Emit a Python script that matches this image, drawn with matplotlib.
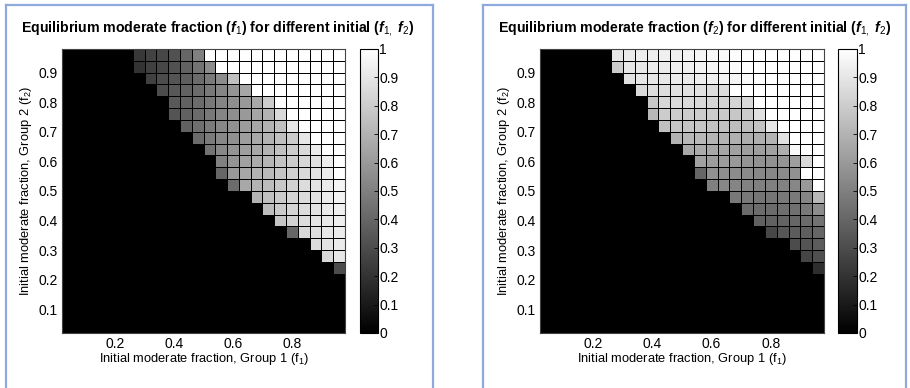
import numpy as np
import matplotlib
matplotlib.use("Agg")
import matplotlib.pyplot as plt
from matplotlib.lines import Line2D

plt.rcParams['font.family'] = ['Liberation Sans', 'DejaVu Sans']
plt.rcParams['mathtext.fontset'] = 'custom'
plt.rcParams['mathtext.rm'] = 'Liberation Sans'
plt.rcParams['mathtext.it'] = 'Liberation Sans:italic:bold'
plt.rcParams['mathtext.bf'] = 'Liberation Sans:bold'

# ---- data: grid of initial fractions (cell edges) ----
grid_edges = np.linspace(0.02, 0.98, 25)

# Rows listed from top (f2 ~ 0.96) downward; each row holds the non-black
# cells, right-aligned to f1 ~ 0.96. Missing cells on the left are 0.
f1_rows = [
    [.22, .26, .28, .32, .40, .50, 1, 1, 1, 1, 1, 1, 1, 1, 1, 1, 1, 1],
    [.20, .25, .28, .32, .38, .45, .55, 1, 1, 1, 1, 1, 1, 1, 1, 1, 1, 1],
    [.25, .30, .33, .37, .42, .48, .55, .75, 1, 1, 1, 1, 1, 1, 1, 1, 1],
    [.30, .34, .38, .42, .47, .52, .58, .65, 1, 1, 1, 1, 1, 1, 1, 1],
    [.35, .38, .42, .47, .52, .56, .60, .66, .80, 1, 1, 1, 1, 1, 1],
    [.33, .38, .42, .47, .52, .56, .60, .65, .70, .85, 1, 1, 1, 1, 1],
    [.38, .43, .48, .53, .57, .61, .65, .70, .75, .90, 1, 1, 1, 1],
    [.42, .48, .53, .57, .62, .66, .70, .75, .80, .90, 1, 1, 1],
    [.45, .53, .58, .62, .66, .70, .75, .80, .85, .92, 1, 1],
    [.50, .58, .63, .67, .71, .76, .80, .84, .88, .93, 1],
    [.40, .60, .65, .70, .73, .77, .81, .85, .89, .92, 1],
    [.42, .66, .70, .74, .78, .82, .86, .89, .92, .96],
    [.70, .75, .79, .83, .86, .89, .92, .95],
    [.74, .79, .83, .86, .89, .92, .94],
    [.77, .82, .86, .89, .91, .93],
    [.40, .84, .87, .90, .92],
    [.86, .89, .92],
    [.85, .90],
    [.30],
]

f2_rows = [
    [.90, .92, .93, .93, .94, .94, .95, .96, .97, .98, .99, 1, 1, 1, 1, 1, 1, 1],
    [.80, .90, .91, .92, .92, .93, .94, .95, .96, .97, .98, 1, 1, 1, 1, 1, 1, 1],
    [.88, .90, .90, .91, .92, .92, .93, .94, .95, .96, .98, 1, 1, 1, 1, 1, 1],
    [.85, .87, .87, .88, .88, .88, .87, .86, 1, 1, 1, 1, 1, 1, 1, 1],
    [.78, .84, .85, .85, .85, .84, .83, .83, .85, 1, 1, 1, 1, 1, 1],
    [.72, .80, .80, .80, .80, .80, .79, .78, .80, .88, 1, 1, 1, 1, 1],
    [.75, .77, .77, .77, .76, .75, .74, .74, .76, .90, 1, 1, 1, 1],
    [.70, .72, .72, .71, .70, .69, .68, .68, .70, .88, 1, 1, 1],
    [.66, .67, .66, .65, .63, .62, .62, .63, .68, .97, 1, 1],
    [.63, .62, .61, .60, .58, .57, .57, .58, .62, .85, 1],
    [.40, .57, .56, .55, .54, .53, .53, .54, .57, 1, 1],
    [.50, .53, .52, .51, .50, .50, .51, .53, .60, 1],
    [.47, .47, .46, .46, .47, .48, .52, .72],
    [.42, .42, .42, .43, .44, .47, .55],
    [.38, .38, .39, .40, .42, .45],
    [.28, .34, .36, .37, .40],
    [.30, .33, .36],
    [.27, .31],
    [.18],
]

titles = [
    r"Equilibrium moderate fraction ($f_{\mathit{1}}$) for different initial ($f_{\mathit{1},}$ $f_{\mathit{2}}$)",
    r"Equilibrium moderate fraction ($f_{\mathit{2}}$) for different initial ($f_{\mathit{1},}$ $f_{\mathit{2}}$)",
]
xlabel = r"Initial moderate fraction, Group 1 (f$_1$)"
ylabel = r"Initial moderate fraction, Group 2 (f$_2$)"
xticks = [0.2, 0.4, 0.6, 0.8]
yticks = [0.1, 0.2, 0.3, 0.4, 0.5, 0.6, 0.7, 0.8, 0.9]
cbar_ticks = [0, 0.1, 0.2, 0.3, 0.4, 0.5, 0.6, 0.7, 0.8, 0.9, 1]
cbar_labels = ["0", "0.1", "0.2", "0.3", "0.4", "0.5", "0.6", "0.7", "0.8", "0.9", "1"]


def build(rows):
    n = len(grid_edges) - 1
    z = np.zeros((n, n))
    for k, row in enumerate(rows):
        z[n - 1 - k, n - len(row):] = row
    return z


W, H = 910, 388
fig = plt.figure(figsize=(W / 100, H / 100), dpi=100)
fig.patch.set_facecolor('white')


def px(x0, y0, x1, y1):
    return [x0 / W, 1 - y1 / H, (x1 - x0) / W, (y1 - y0) / H]


panels = [
    dict(rows=f1_rows, ax=(62, 49, 345, 333), cb=(360, 49, 378, 333), title=titles[0], tx=218),
    dict(rows=f2_rows, ax=(540, 49, 824, 333), cb=(838, 49, 857, 333), title=titles[1], tx=695),
]

tick_fs = 10
lab_fs = 9.3

for p in panels:
    z = build(p['rows'])
    ax = fig.add_axes(px(*p['ax']))
    mesh = ax.pcolormesh(grid_edges, grid_edges, z, cmap='gray', vmin=0, vmax=1,
                         edgecolors='black', linewidth=0.55)
    ax.set_xlim(grid_edges[0], grid_edges[-1])
    ax.set_ylim(grid_edges[0], grid_edges[-1])
    ax.set_xticks(xticks)
    ax.set_xticklabels([f"{t:g}" for t in xticks])
    ax.set_yticks(yticks)
    ax.set_yticklabels([f"{t:g}" for t in yticks])
    ax.tick_params(direction='in', length=3, width=0.6, labelsize=tick_fs, pad=3)
    for s in ax.spines.values():
        s.set_linewidth(0.8)
        s.set_color('#444444')
    ax.set_xlabel(xlabel, fontsize=lab_fs, labelpad=0)
    ax.set_ylabel(ylabel, fontsize=lab_fs, labelpad=3)

    cax = fig.add_axes(px(*p['cb']))
    cb = fig.colorbar(mesh, cax=cax, ticks=cbar_ticks)
    cb.ax.set_yticklabels(cbar_labels)
    cb.ax.tick_params(direction='in', length=3, width=0.6, labelsize=tick_fs, pad=1)
    cb.outline.set_linewidth(0.8)

    fig.text(p['tx'] / W, 1 - 28 / H, p['title'], ha='center', va='center',
             fontsize=10.2, fontweight='bold')

# panel frames
border = '#8EA9DB'
def fline(xs, ys):
    fig.add_artist(Line2D([x / W for x in xs], [1 - y / H for y in ys],
                          color=border, linewidth=1.6, transform=fig.transFigure))

fline([6, 6], [5, H])
fline([6, 433], [5, 5])
fline([433, 433], [5, H])
fline([483, 483], [5, H])
fline([483, 906], [5, 5])
fline([906, 906], [5, H])

fig.savefig("out.png", dpi=100, facecolor='white')
